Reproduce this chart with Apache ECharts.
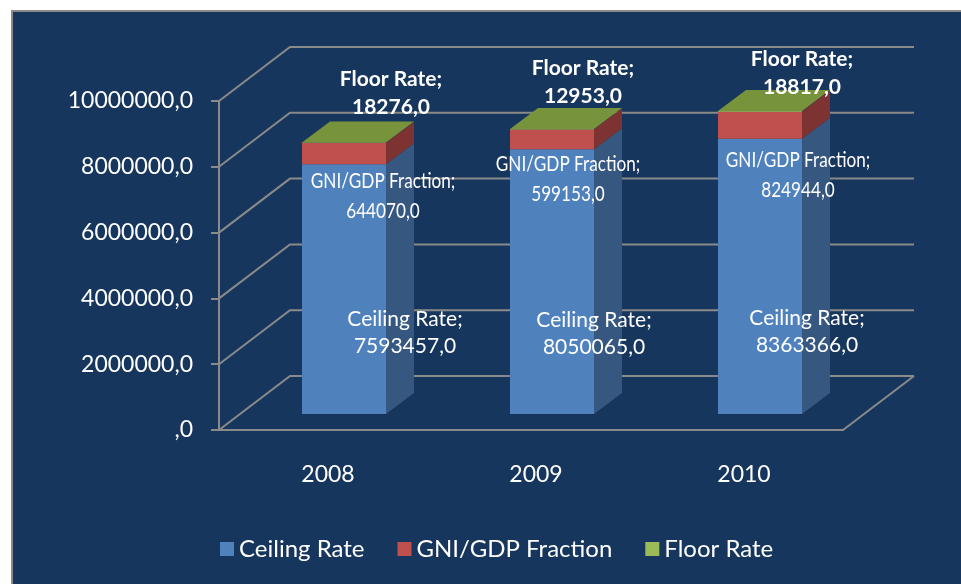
<!DOCTYPE html>
<html>
<head>
<meta charset="utf-8">
<script src="https://cdn.jsdelivr.net/npm/echarts@6/dist/echarts.min.js"></script>
<style>
  html, body { margin: 0; padding: 0; background: #ffffff; overflow: hidden; }
  #frame { position: absolute; left: 11px; top: 10px; width: 1000px; height: 600px;
           background: #17365D; border-left: 2px solid #8a8a8a; border-top: 2px solid #8a8a8a; }
  #chart { position: absolute; left: 0; top: 0; width: 961px; height: 584px; }
</style>
</head>
<body>
<div id="frame"></div>
<div id="chart"></div>
<script>
// chart values
const years = ['2008', '2009', '2010'];
const ceilingRate = [7593457, 8050065, 8363366];
const gniFraction = [644070, 599153, 824944];
const floorRate = [18276, 12953, 18817];
const valueTicks = [0, 2000000, 4000000, 6000000, 8000000, 10000000];

// 3D look (pixels)
const WALL_DX = 71, WALL_DY = -54;   // depth of the floor / side wall
const FRONT_DX = 21, FRONT_DY = -16; // bar front plane inside the box
const BAR_DX = 28, BAR_DY = -21;     // depth of one bar
const BAR_RATIO = 0.404;
const GRID_COLOR = '#8a8a8a';

// label nudges, relative to the centre of each segment's front face
const ceilingShift = [[61, 44], [42, 52], [47, 55]];
const gniShift = [[39, 42], [16, 40], [38, 50]];
const floorShift = [[47, -49], [31, -47], [42, -38]];

function fmt(v) {
    return v === 0 ? ',0' : v.toFixed(1).replace('.', ',');
}

function buildData(values, below) {
    return values.map((v, i) => {
        const base = below.reduce((s, arr) => s + arr[i], 0);
        return [i, base, base + v, v];
    });
}

function barRenderer(opts) {
    return function (params, api) {
        const i = api.value(0);
        const p0 = api.coord([i, api.value(1)]);
        const p1 = api.coord([i, api.value(2)]);
        const band = api.size([1, 0])[0];
        const w = band * BAR_RATIO;
        const x0 = p0[0] - w / 2 + FRONT_DX;
        const yBot = p0[1] + FRONT_DY;
        const yTop = p1[1] + FRONT_DY;
        const children = [
            { type: 'rect', shape: { x: x0, y: yTop, width: w, height: yBot - yTop },
              style: { fill: opts.front } },
            { type: 'polygon', shape: { points: [[x0 + w, yTop], [x0 + w + BAR_DX, yTop + BAR_DY],
                [x0 + w + BAR_DX, yBot + BAR_DY], [x0 + w, yBot]] }, style: { fill: opts.side } }
        ];
        if (opts.top) {
            children.push({ type: 'polygon', shape: { points: [[x0, yTop], [x0 + w, yTop],
                [x0 + w + BAR_DX, yTop + BAR_DY], [x0 + BAR_DX, yTop + BAR_DY]] },
                style: { fill: opts.top } });
        }
        const sh = opts.shift[params.dataIndex];
        children.push({
            type: 'text',
            x: x0 + w / 2 + sh[0],
            y: (yTop + yBot) / 2 + sh[1],
            scaleX: opts.scaleX || 1,
            z2: 10,
            style: {
                text: opts.name + ';\n' + fmt(api.value(3)),
                fill: '#ffffff',
                fontFamily: 'Lato',
                fontSize: opts.fontSize,
                fontWeight: opts.bold ? 'bold' : 'normal',
                lineHeight: opts.lineHeight,
                align: 'center',
                verticalAlign: 'middle'
            }
        });
        return { type: 'group', children: children };
    };
}

const chart = echarts.init(document.getElementById('chart'));

chart.setOption({
    animation: false,
    backgroundColor: 'transparent',
    grid: { left: 219, right: 118, top: 101, bottom: 154 },
    legend: {
        left: 215, top: 532,
        icon: 'rect', itemWidth: 14, itemHeight: 14, itemGap: 33,
        textStyle: { color: '#ffffff', fontFamily: 'Lato', fontSize: 24 },
        data: ['Ceiling Rate', 'GNI/GDP Fraction', 'Floor Rate']
    },
    xAxis: {
        type: 'category',
        data: years,
        axisLine: { lineStyle: { color: GRID_COLOR, width: 2 } },
        axisTick: { length: 8, lineStyle: { color: GRID_COLOR, width: 2 } },
        axisLabel: { color: '#ffffff', fontFamily: 'Lato', fontSize: 23, margin: 33, padding: [0, 0, 0, 10] }
    },
    yAxis: {
        type: 'value',
        min: 0, max: 10000000, interval: 2000000,
        axisLine: { show: true, lineStyle: { color: GRID_COLOR, width: 2 } },
        axisTick: { show: true, length: 8, lineStyle: { color: GRID_COLOR, width: 2 } },
        splitLine: { show: false },
        axisLabel: { color: '#ffffff', fontFamily: 'Lato', fontSize: 23, margin: 26, formatter: fmt }
    },
    series: [
        {
            // back wall, side wall and floor of the 3D box
            type: 'custom',
            silent: true,
            z: 1,
            data: valueTicks.map(v => [v]),
            renderItem: function (params, api) {
                const cs = params.coordSys;
                const y = api.coord([0, api.value(0)])[1];
                const left = cs.x, right = cs.x + cs.width;
                const children = [{
                    type: 'polyline',
                    shape: { points: [[left, y], [left + WALL_DX, y + WALL_DY], [right + WALL_DX, y + WALL_DY]] },
                    style: { stroke: GRID_COLOR, lineWidth: 2, fill: null }
                }];
                if (api.value(0) === 0) {
                    children.push({
                        type: 'line',
                        shape: { x1: right, y1: y, x2: right + WALL_DX, y2: y + WALL_DY },
                        style: { stroke: GRID_COLOR, lineWidth: 2 }
                    });
                }
                return { type: 'group', children: children };
            }
        },
        {
            name: 'Ceiling Rate',
            type: 'custom',
            z: 2,
            itemStyle: { color: '#4F81BD' },
            encode: { x: 0, y: [1, 2] },
            data: buildData(ceilingRate, []),
            renderItem: barRenderer({ name: 'Ceiling Rate', front: '#4F81BD', side: '#36577F',
                shift: ceilingShift, fontSize: 21, lineHeight: 27 })
        },
        {
            name: 'GNI/GDP Fraction',
            type: 'custom',
            z: 3,
            itemStyle: { color: '#C0504D' },
            encode: { x: 0, y: [1, 2] },
            data: buildData(gniFraction, [ceilingRate]),
            renderItem: barRenderer({ name: 'GNI/GDP Fraction', front: '#C0504D', side: '#7D3331',
                shift: gniShift, fontSize: 22, lineHeight: 30, scaleX: 0.78 })
        },
        {
            name: 'Floor Rate',
            type: 'custom',
            z: 4,
            itemStyle: { color: '#9BBB59' },
            encode: { x: 0, y: [1, 2] },
            data: buildData(floorRate, [ceilingRate, gniFraction]),
            renderItem: barRenderer({ name: 'Floor Rate', front: '#9BBB59', side: '#7D3331', top: '#77933C',
                shift: floorShift, fontSize: 21, lineHeight: 28, bold: true })
        }
    ]
});
</script>
</body>
</html>
